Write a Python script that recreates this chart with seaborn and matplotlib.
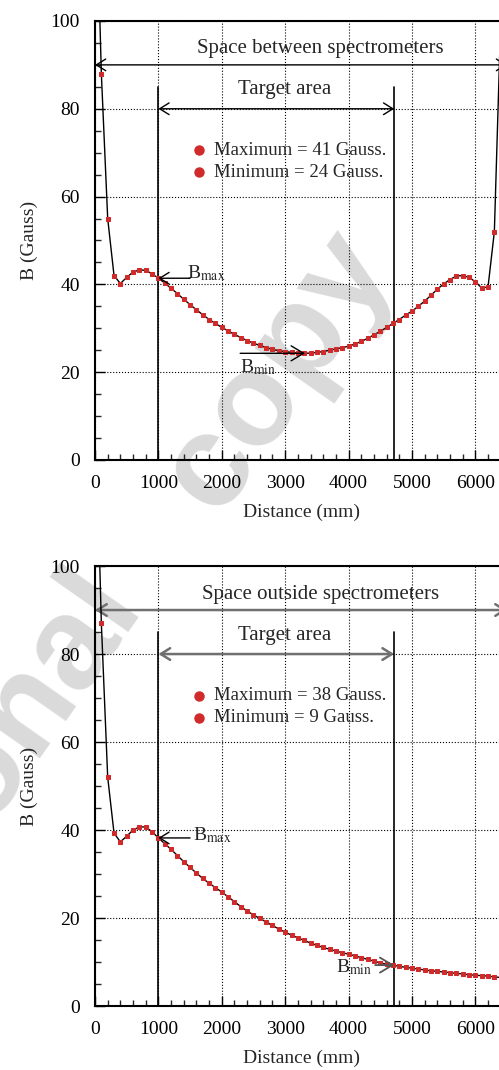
import numpy as np
import matplotlib
matplotlib.use("Agg")
import matplotlib.pyplot as plt
import seaborn as sns
import pandas as pd

# Field along the beam line (mm, Gauss)
distance = [0, 100, 200, 300, 400, 500, 600, 700, 800, 900,
            1000, 1100, 1200, 1300, 1400, 1500, 1600, 1700, 1800, 1900,
            2000, 2100, 2200, 2300, 2400, 2500, 2600, 2700, 2800, 2900,
            3000, 3100, 3200, 3300, 3400, 3500, 3600, 3700, 3800, 3900,
            4000, 4100, 4200, 4300, 4400, 4500, 4600, 4700, 4800, 4900,
            5000, 5100, 5200, 5300, 5400, 5500, 5600, 5700, 5800, 5900,
            6000, 6100, 6200, 6300, 6400, 6500]

b_between = [140, 88, 55, 42.0, 40.2, 41.6, 42.8, 43.3, 43.2, 42.4,
             41.4, 40.3, 39.1, 37.9, 36.6, 35.4, 34.2, 33.1, 32.0, 31.1,
             30.2, 29.4, 28.6, 27.9, 27.2, 26.6, 26.1, 25.6, 25.2, 24.9,
             24.7, 24.5, 24.35, 24.3, 24.35, 24.5, 24.7, 25.0, 25.3, 25.6,
             25.9, 26.4, 27.0, 27.7, 28.5, 29.3, 30.2, 31.1, 32.0, 33.0,
             33.9, 35.0, 36.2, 37.5, 38.9, 40.1, 41.1, 41.9, 42.0, 41.6,
             40.6, 39.2, 39.4, 52, 100, 140]

b_outside = [140, 87, 52, 39.3, 37.3, 38.6, 40.0, 40.7, 40.7, 39.6,
             38.2, 36.9, 35.6, 34.2, 32.8, 31.5, 30.2, 29.0, 27.9, 26.9,
             25.9, 24.8, 23.7, 22.6, 21.6, 20.7, 19.9, 19.1, 18.3, 17.5,
             16.8, 16.1, 15.5, 14.9, 14.3, 13.8, 13.3, 12.9, 12.5, 12.1,
             11.8, 11.4, 11.0, 10.6, 10.2, 9.8, 9.5, 9.3, 9.0, 8.8,
             8.6, 8.4, 8.2, 8.0, 7.9, 7.7, 7.6, 7.4, 7.3, 7.1,
             7.0, 6.9, 6.8, 6.6, 6.5, 6.4]

titles = ["Space between spectrometers", "Space outside spectrometers"]
b_max = [41, 38]
b_min = [24, 9]
target = [1000, 4720]

df = pd.DataFrame({"distance": distance, "between": b_between, "outside": b_outside})

sns.set_theme(style="white")
plt.rcParams["font.family"] = ["Liberation Serif", "DejaVu Serif"]
plt.rcParams["mathtext.fontset"] = "stix"

fig = plt.figure(figsize=(4.99, 10.7), dpi=100)

# watermark behind everything (two words, wide gap)
wm = dict(fontsize=95, fontweight="bold", family="Liberation Sans",
          color="#dadada", rotation=55, rotation_mode="anchor",
          va="baseline", zorder=-1)
fig.text(0.283, 0.4374, "Personal", ha="right", **wm)
fig.text(0.79, 0.753, "copy", ha="right", **wm)

ax1 = fig.add_axes([0.1904, 0.5701, 0.8257, 0.4103])
ax2 = fig.add_axes([0.1904, 0.0598, 0.8257, 0.4112])

red = "#d02a2a"

for i, (ax, col) in enumerate(zip([ax1, ax2], ["between", "outside"])):
    ax.set_facecolor("none")
    sns.lineplot(data=df, x="distance", y=col, ax=ax, color="black", lw=1,
                 marker="s", markersize=2.2, markerfacecolor=red,
                 markeredgecolor=red, zorder=4)
    ax.set_xlim(0, 6500)
    ax.set_ylim(0, 100)
    ax.set_xticks(range(0, 7000, 1000))
    ax.set_yticks(range(0, 101, 20))
    ax.set_xticks(range(0, 6600, 200), minor=True)
    ax.set_yticks(range(0, 101, 5), minor=True)
    ax.tick_params(which="major", direction="in", length=7, width=1,
                   labelsize=14, pad=11, bottom=True, left=True, colors="black")
    ax.tick_params(which="minor", direction="in", length=4, width=1,
                   bottom=True, left=True)
    ax.grid(True, which="major", linestyle=":", color="black", lw=0.8)
    for s in ["left", "bottom", "top", "right"]:
        ax.spines[s].set_color("black")
        ax.spines[s].set_linewidth(1.5)
    ax.set_xlabel("Distance (mm)", fontsize=14, labelpad=8)
    ax.set_ylabel("B (Gauss)", fontsize=14, labelpad=9)

    arrow_col = "black" if i == 0 else "#707070"
    arrow_lw = 1 if i == 0 else 1.8

    # target area limits and arrows
    for xv in target:
        ax.plot([xv, xv], [0, 85], color="black", lw=1.2, zorder=3)
    ax.annotate("", xy=(target[0], 80), xytext=(target[1], 80),
                arrowprops=dict(arrowstyle="<->,head_length=0.45,head_width=0.28",
                                color=arrow_col, lw=arrow_lw, mutation_scale=15,
                                shrinkA=0, shrinkB=0), zorder=3)
    ax.text(2990, 83.3, "Target area", fontsize=15, ha="center", va="baseline")
    ax.annotate("", xy=(0, 90), xytext=(6500, 90),
                arrowprops=dict(arrowstyle="<->,head_length=0.45,head_width=0.28",
                                color=arrow_col, lw=arrow_lw, mutation_scale=15,
                                shrinkA=0, shrinkB=0), zorder=3)
    ax.text(3560, 92.6, titles[i], fontsize=15, ha="center", va="baseline")

    # max / min notes
    ax.plot([1640, 1640], [70.5, 65.5], "o", color=red, markersize=6.5,
            clip_on=False, zorder=5)
    ax.text(1877, 70.5, f"Maximum = {b_max[i]} Gauss.", fontsize=13.5,
            va="center")
    ax.text(1877, 65.5, f"Minimum = {b_min[i]} Gauss.", fontsize=13.5,
            va="center")

# B max / B min markers, panel 1
ax1.annotate("", xy=(1000, 41.4), xytext=(1500, 41.4),
             arrowprops=dict(arrowstyle="->,head_length=0.45,head_width=0.28",
                             color="black", lw=1, mutation_scale=15,
                             shrinkA=0, shrinkB=0), zorder=5)
ax1.text(1450, 41.4, r"B$_{\mathrm{max}}$", fontsize=14, va="baseline")
ax1.annotate("", xy=(3312, 24.3), xytext=(2290, 24.3),
             arrowprops=dict(arrowstyle="->,head_length=0.5,head_width=0.3",
                             color="black", lw=1, mutation_scale=18,
                             shrinkA=0, shrinkB=0), zorder=5)
ax1.text(2290, 23.4, r"B$_{\mathrm{min}}$", fontsize=14, va="top")

# B max / B min markers, panel 2
ax2.annotate("", xy=(1000, 38.2), xytext=(1500, 38.2),
             arrowprops=dict(arrowstyle="->,head_length=0.45,head_width=0.28",
                             color="black", lw=1, mutation_scale=15,
                             shrinkA=0, shrinkB=0), zorder=5)
ax2.text(1540, 37.6, r"B$_{\mathrm{max}}$", fontsize=14, va="baseline")
ax2.annotate("", xy=(4720, 9.3), xytext=(4420, 9.3),
             arrowprops=dict(arrowstyle="->,head_length=0.5,head_width=0.3",
                             color="#555555", lw=1.3, mutation_scale=18,
                             shrinkA=0, shrinkB=0), zorder=5)
ax2.text(4380, 7.6, r"B$_{\mathrm{min}}$", fontsize=14, ha="right", va="baseline")

fig.savefig("out.png", dpi=100)
